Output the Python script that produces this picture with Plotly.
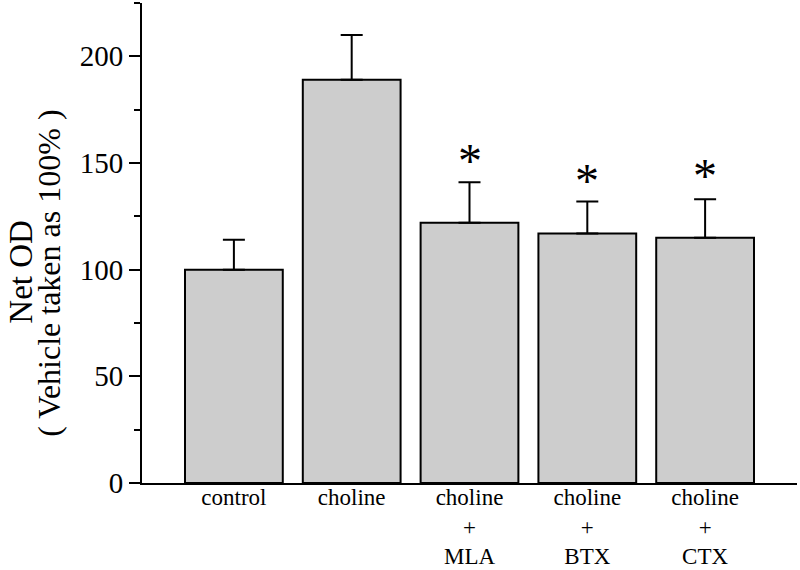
import plotly.graph_objects as go

# groups and values (vehicle = 100 %)
groups = ["control", "choline", "choline<br>+<br>MLA", "choline<br>+<br>BTX", "choline<br>+<br>CTX"]
net_od = [100, 189, 122, 117, 115]
sem = [14, 21, 19, 15, 18]
stars = ["", "", "*", "*", "*"]
star_y = [0, 0, 151, 142, 144]

serif = "Liberation Serif, Times New Roman, serif"

fig = go.Figure()
fig.add_trace(go.Bar(
    x=groups, y=net_od,
    width=0.83,
    marker=dict(color="#cdcdcd", line=dict(color="black", width=2)),
    error_y=dict(type="data", array=sem, arrayminus=[0] * len(sem), symmetric=False,
                 color="black", thickness=2, width=11),
))

# significance asterisks
for g, s, sy in zip(groups, stars, star_y):
    if s:
        fig.add_annotation(x=g, y=sy, text=s, showarrow=False,
                           font=dict(family=serif, size=48, color="black"))

# y-axis title, two lines placed by hand
fig.add_annotation(xref="paper", yref="paper", x=-0.185, y=0.44, text="Net OD",
                   textangle=-90, showarrow=False, xanchor="center", yanchor="middle",
                   font=dict(family=serif, size=33, color="black"))
fig.add_annotation(xref="paper", yref="paper", x=-0.142, y=0.438, text="( Vehicle taken as 100% )",
                   textangle=-90, showarrow=False, xanchor="center", yanchor="middle",
                   font=dict(family=serif, size=32, color="black"))

fig.update_layout(
    width=800, height=570,
    margin=dict(l=142, r=3, t=3, b=87),
    plot_bgcolor="white", paper_bgcolor="white",
    showlegend=False,
    font=dict(family=serif, color="black"),
    xaxis=dict(
        range=[-0.78, 4.78], automargin=False,
        showline=True, linecolor="black", linewidth=2,
        ticks="", tickfont=dict(size=23), ticklabelstandoff=-8,
        showgrid=False, zeroline=False,
    ),
    yaxis=dict(
        range=[0, 225], automargin=False,
        tickvals=[0, 50, 100, 150, 200],
        showline=True, linecolor="black", linewidth=2,
        ticks="outside", ticklen=11, tickwidth=2, tickcolor="black",
        tickfont=dict(size=29),
        minor=dict(tickvals=[25, 75, 125, 175, 225], ticks="outside", ticklen=6,
                   tickwidth=2, tickcolor="black"),
        showgrid=False, zeroline=False,
    ),
)

# drop the default page margin so the figure fills the window
fig.write_html("out.html", config={"displayModeBar": False},
               post_script="document.body.style.margin='0';")
